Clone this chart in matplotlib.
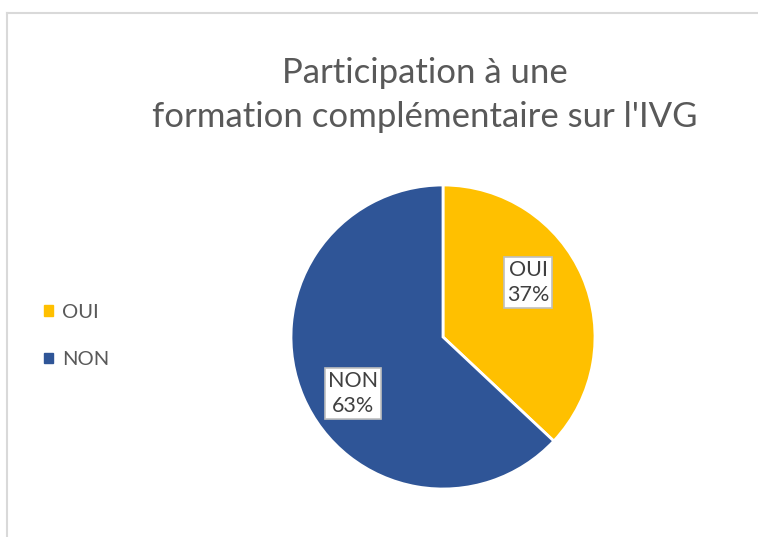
import matplotlib
matplotlib.use('Agg')
import matplotlib.pyplot as plt
from matplotlib.lines import Line2D
import numpy as np

# data
categories = ['OUI', 'NON']
values = [37, 63]
colors = ['#FFC000', '#2F5597']
title = "Participation à une\nformation complémentaire sur l'IVG"

plt.rcParams['font.family'] = ['Lato', 'DejaVu Sans']
W, H = 758, 537
fig = plt.figure(figsize=(W / 100, H / 100), dpi=100)

# chart frame (light grey border, cut at right and bottom like the reference)
fig.add_artist(Line2D([7 / W, 7 / W], [0, 1 - 13 / H], color='#d9d9d9', lw=1.5))
fig.add_artist(Line2D([7 / W, 1], [1 - 13 / H, 1 - 13 / H], color='#d9d9d9', lw=1.5))

# pie axes: centre (443, 337) px, radius ~152 px
cx, cy, r = 443, 337, 152
ax = fig.add_axes([(cx - r) / W, (H - cy - r) / H, 2 * r / W, 2 * r / H])
wedges, _ = ax.pie(values, colors=colors, startangle=90, counterclock=False,
                   wedgeprops=dict(edgecolor='white', linewidth=2))
ax.set_xlim(-1, 1)
ax.set_ylim(-1, 1)
ax.set_aspect('equal')

# data labels in boxes, placed like Excel does
label_pos = [(0.56, 0.36), (-0.59, -0.37)]
for cat, v, (x, y) in zip(categories, values, label_pos):
    ax.text(x, y, f'{cat}\n{v}%', ha='center', va='center', fontsize=15.5,
            color='#404040', linespacing=1.3,
            bbox=dict(boxstyle='square,pad=0.14', facecolor='white',
                      edgecolor='#bfbfbf', linewidth=1.2))

fig.text(425 / W, 1 - 95 / H, title, ha='center', va='center', fontsize=25,
         color='#595959', linespacing=1.45)

handles = [plt.Rectangle((0, 0), 1, 1, color=c) for c in colors]
fig.legend(handles, categories, loc='center left', bbox_to_anchor=(26 / W, 1 - 336 / H),
           frameon=False, fontsize=14.5, labelcolor='#595959', handlelength=0.45,
           handleheight=0.45, handletextpad=0.45, labelspacing=1.5)

fig.savefig('out.png', dpi=100)
